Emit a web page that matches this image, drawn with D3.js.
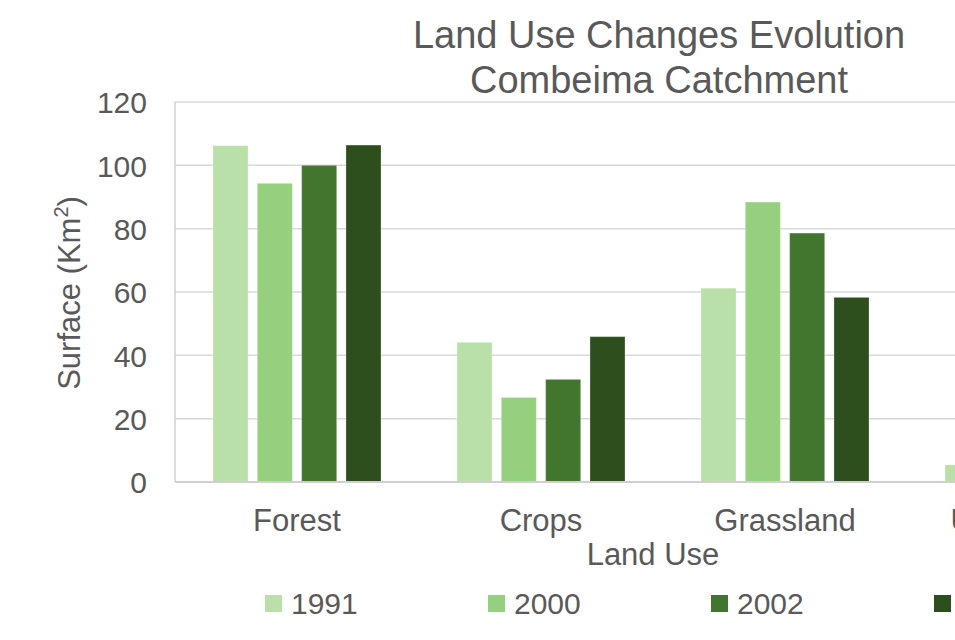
<!DOCTYPE html>
<html>
<head>
<meta charset="utf-8">
<script src="https://cdn.jsdelivr.net/npm/d3@7"></script>
<style>
  body { margin: 0; background: #fff; overflow: hidden; }
  text { font-family: "Liberation Sans", Arial, sans-serif; fill: #595959; }
</style>
</head>
<body>
<svg id="chart" width="955" height="640"></svg>
<script>
// Land use surface (km²) per category and survey year
const categories = ["Forest", "Crops", "Grassland", "Urban Area"];
const seriesNames = ["1991", "2000", "2002", "2007"];
const values1991 = [106.2, 44.1, 61.2, 5.4];
const values2000 = [94.3, 26.7, 88.4, null];
const values2002 = [100.0, 32.4, 78.6, null];
const values2007 = [106.4, 45.9, 58.3, null];
const yTicks = [0, 20, 40, 60, 80, 100, 120];
const seriesColors = ["#b8e0a8", "#94d07e", "#42752d", "#2c4f1d"];

const seriesValues = [values1991, values2000, values2002, values2007];

const svg = d3.select("#chart");

const plot = { left: 175, top: 102, bottom: 482, right: 1151 };

const x0 = d3.scaleBand().domain(categories).range([plot.left, plot.right]);
const x1 = d3.scaleBand().domain(seriesNames).range([38, 206]).paddingInner(0.21);
const y = d3.scaleLinear().domain([0, 120]).range([plot.bottom, plot.top]);
const color = d3.scaleOrdinal().domain(seriesNames).range(seriesColors);

// Horizontal gridlines
svg.append("g")
  .selectAll("line")
  .data(yTicks.filter(d => d > 0))
  .join("line")
  .attr("x1", plot.left).attr("x2", plot.right)
  .attr("y1", d => y(d)).attr("y2", d => y(d))
  .attr("stroke", "#d9d9d9").attr("stroke-width", 1.5);

// Left edge of the plot area
svg.append("line")
  .attr("x1", plot.left).attr("x2", plot.left)
  .attr("y1", y(120)).attr("y2", y(0))
  .attr("stroke", "#d0d0d0").attr("stroke-width", 1.5);

// Y axis tick labels
const yAxis = d3.axisLeft(y).tickValues(yTicks).tickSize(0).tickPadding(0);
const yAxisG = svg.append("g")
  .attr("transform", `translate(${plot.left - 28},0)`)
  .call(yAxis);
yAxisG.select(".domain").remove();
yAxisG.selectAll("text")
  .attr("font-size", 30)
  .attr("fill", "#595959")
  .attr("font-family", "Liberation Sans, Arial, sans-serif")
  .attr("dy", "0.36em");

// Bars
const groups = svg.append("g")
  .selectAll("g")
  .data(categories)
  .join("g")
  .attr("transform", d => `translate(${x0(d)},0)`);

groups.selectAll("rect")
  .data((c, i) => seriesNames.map((s, k) => ({ series: s, value: seriesValues[k][i] })))
  .join("rect")
  .filter(d => d.value != null)
  .attr("x", d => x1(d.series))
  .attr("width", x1.bandwidth())
  .attr("y", d => y(d.value))
  .attr("height", d => y(0) - y(d.value))
  .attr("fill", d => color(d.series))
  .attr("stroke", "rgba(255,255,255,0.25)")
  .attr("stroke-width", 1);

// Category axis line
svg.append("line")
  .attr("x1", plot.left).attr("x2", plot.right)
  .attr("y1", y(0)).attr("y2", y(0))
  .attr("stroke", "#d0d0d0").attr("stroke-width", 2);

// Category labels
const xAxis = d3.axisBottom(x0).tickSize(0).tickPadding(0);
const xAxisG = svg.append("g")
  .attr("transform", `translate(0,${plot.bottom})`)
  .call(xAxis);
xAxisG.select(".domain").remove();
xAxisG.selectAll("text")
  .attr("font-size", 31)
  .attr("fill", "#595959")
  .attr("font-family", "Liberation Sans, Arial, sans-serif")
  .attr("dy", 0)
  .attr("y", 49);

// Title
const title = svg.append("text")
  .attr("text-anchor", "middle")
  .attr("font-size", 38);
title.append("tspan").attr("x", 659).attr("y", 48).text("Land Use Changes Evolution");
title.append("tspan").attr("x", 659).attr("y", 93).text("Combeima Catchment");

// Axis titles
svg.append("text")
  .attr("text-anchor", "middle")
  .attr("font-size", 31)
  .attr("x", 653).attr("y", 565)
  .text("Land Use");

const yTitle = svg.append("text")
  .attr("text-anchor", "middle")
  .attr("font-size", 31)
  .attr("transform", `translate(80,293) rotate(-90)`);
yTitle.append("tspan").text("Surface (Km");
yTitle.append("tspan").attr("font-size", 20).attr("dy", -12).text("2");
yTitle.append("tspan").attr("dy", 12).text(")");

// Legend
const legendX = d3.scaleBand().domain(seriesNames).range([265, 265 + 223 * seriesNames.length]);
const legend = svg.append("g")
  .selectAll("g")
  .data(seriesNames)
  .join("g")
  .attr("transform", d => `translate(${legendX(d)},595)`);
legend.append("rect")
  .attr("width", 17).attr("height", 17)
  .attr("fill", d => color(d));
legend.append("text")
  .attr("x", 26).attr("y", 19)
  .attr("font-size", 30)
  .text(d => d);
</script>
</body>
</html>
